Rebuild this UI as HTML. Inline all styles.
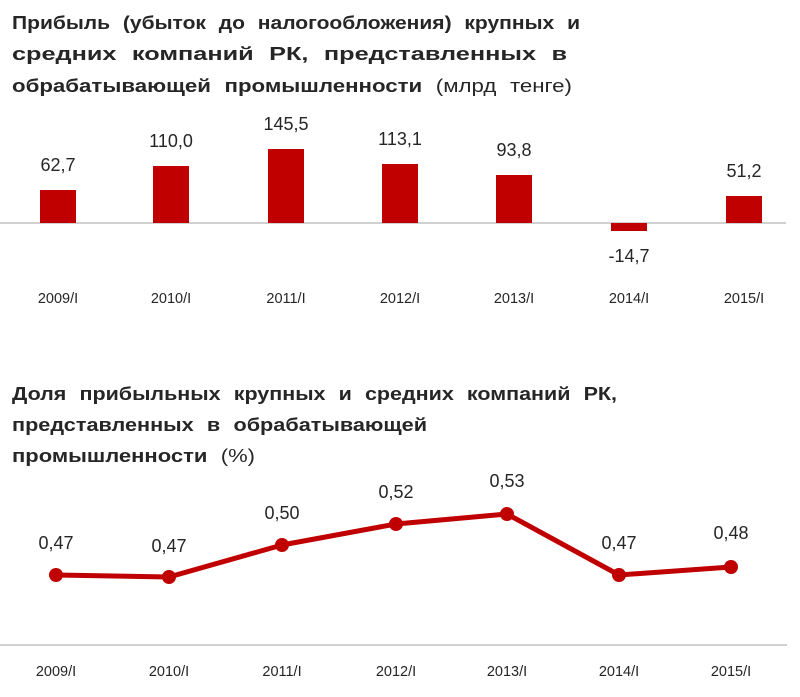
<!DOCTYPE html>
<html><head><meta charset="utf-8"><style>
body{margin:0;background:#fff;}
svg{display:block;font-family:"Liberation Sans","DejaVu Sans",sans-serif;}
.t{font-size:18px;font-weight:bold;fill:#262626;word-spacing:6px;}
.tn{font-weight:normal;}
.v{font-size:18px;fill:#262626;text-anchor:middle;}
.x{font-size:14.5px;fill:#262626;text-anchor:middle;}
</style></head><body>
<svg width="800" height="697" viewBox="0 0 800 697">
<text x="12" y="29" class="t" textLength="568" lengthAdjust="spacingAndGlyphs">Прибыль (убыток до налогообложения) крупных и</text>
<text x="12" y="60" class="t" textLength="555" lengthAdjust="spacingAndGlyphs">средних компаний РК, представленных в</text>
<text x="12" y="92" class="t" textLength="560" lengthAdjust="spacingAndGlyphs">обрабатывающей промышленности <tspan class="tn">(млрд тенге)</tspan></text>
<line x1="0" y1="223" x2="786" y2="223" stroke="#d0d0d0" stroke-width="2"/>
<g fill="#c00000">
<rect x="40" y="190" width="36" height="33"/>
<rect x="153" y="166" width="36" height="57"/>
<rect x="268" y="149" width="36" height="74"/>
<rect x="382" y="164" width="36" height="59"/>
<rect x="496" y="175" width="36" height="48"/>
<rect x="611" y="223" width="36" height="8"/>
<rect x="726" y="196" width="36" height="27"/>
</g>
<text x="58" y="171" class="v">62,7</text>
<text x="171" y="147" class="v">110,0</text>
<text x="286" y="130" class="v">145,5</text>
<text x="400" y="145" class="v">113,1</text>
<text x="514" y="156" class="v">93,8</text>
<text x="629" y="262" class="v">-14,7</text>
<text x="744" y="177" class="v">51,2</text>
<g class="x">
<text x="58" y="303">2009/I</text><text x="171" y="303">2010/I</text><text x="286" y="303">2011/I</text><text x="400" y="303">2012/I</text><text x="514" y="303">2013/I</text><text x="629" y="303">2014/I</text><text x="744" y="303">2015/I</text>
</g>
<text x="12" y="400" class="t" textLength="605" lengthAdjust="spacingAndGlyphs">Доля прибыльных крупных и средних компаний РК,</text>
<text x="12" y="431" class="t" textLength="415" lengthAdjust="spacingAndGlyphs">представленных в обрабатывающей</text>
<text x="12" y="462" class="t" textLength="243" lengthAdjust="spacingAndGlyphs">промышленности <tspan class="tn">(%)</tspan></text>
<line x1="0" y1="645" x2="787" y2="645" stroke="#d0d0d0" stroke-width="2"/>
<polyline points="56,575 169,577 282,545 396,524 507,514 619,575 731,567" fill="none" stroke="#c00000" stroke-width="5" stroke-linejoin="round"/>
<g fill="#c00000">
<circle cx="56" cy="575" r="7"/><circle cx="169" cy="577" r="7"/><circle cx="282" cy="545" r="7"/><circle cx="396" cy="524" r="7"/><circle cx="507" cy="514" r="7"/><circle cx="619" cy="575" r="7"/><circle cx="731" cy="567" r="7"/>
</g>
<text x="56" y="549" class="v">0,47</text>
<text x="169" y="552" class="v">0,47</text>
<text x="282" y="519" class="v">0,50</text>
<text x="396" y="498" class="v">0,52</text>
<text x="507" y="487" class="v">0,53</text>
<text x="619" y="549" class="v">0,47</text>
<text x="731" y="539" class="v">0,48</text>
<g class="x">
<text x="56" y="676">2009/I</text><text x="169" y="676">2010/I</text><text x="282" y="676">2011/I</text><text x="396" y="676">2012/I</text><text x="507" y="676">2013/I</text><text x="619" y="676">2014/I</text><text x="731" y="676">2015/I</text>
</g>
</svg>
</body></html>
